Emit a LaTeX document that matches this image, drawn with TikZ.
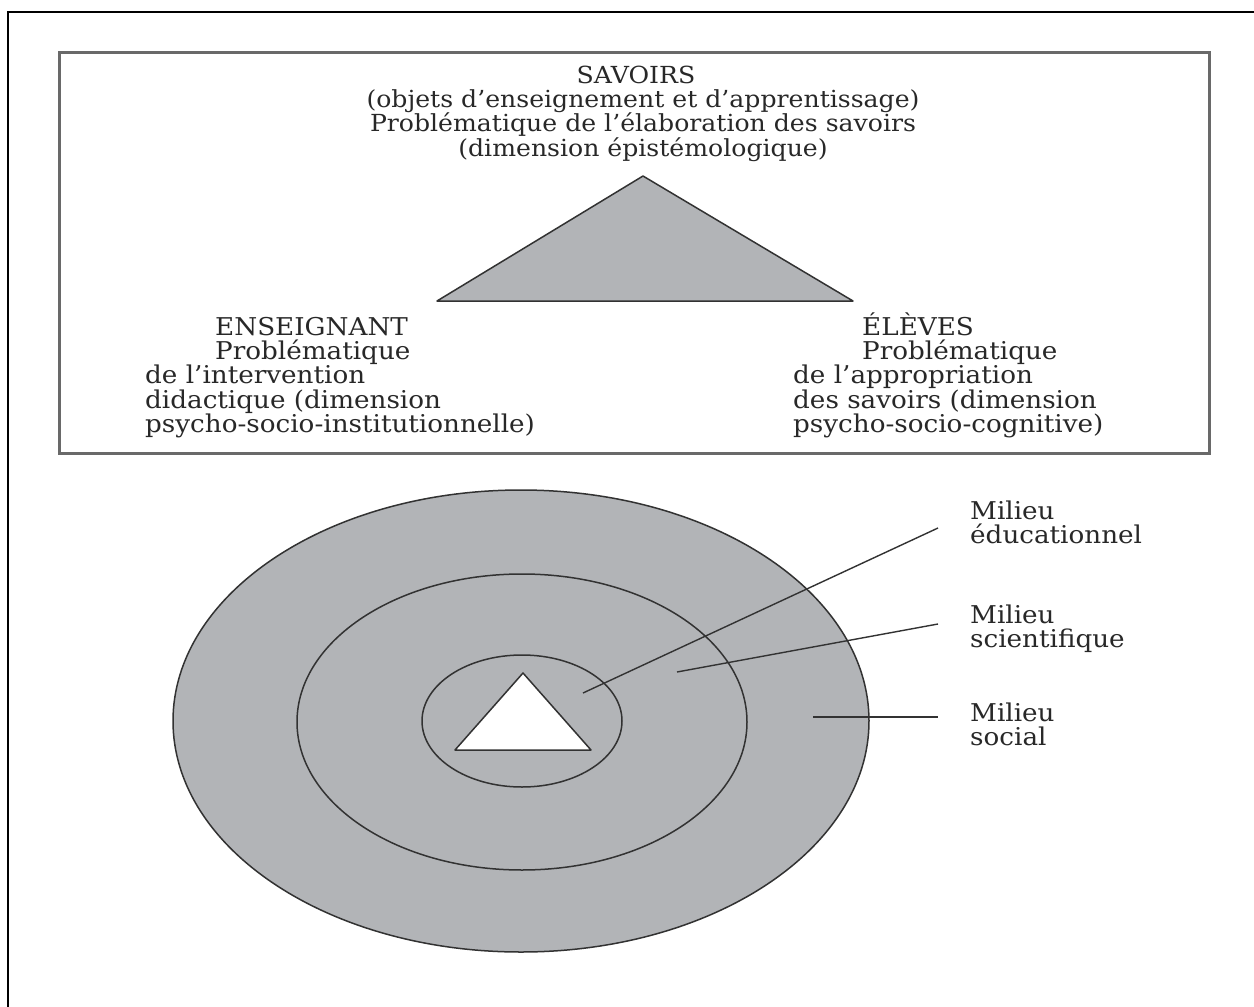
\documentclass[tikz,border=0pt]{standalone}
\usepackage{fontspec}
\setmainfont[FakeStretch=1.07]{DejaVu Serif}
\definecolor{fillgray}{RGB}{178,180,183}
\definecolor{linegray}{RGB}{50,50,50}
\definecolor{boxgray}{RGB}{105,105,105}
\definecolor{textcol}{RGB}{40,40,40}
\begin{document}
\begin{tikzpicture}[x=1pt,y=-1pt,
  txt/.style={font=\fontsize{24.5}{26}\selectfont, text=textcol, inner sep=0pt, anchor=base west},
  ctxt/.style={txt, font=\fontsize{23.5}{25}\selectfont, anchor=base},
  shapefill/.style={draw=linegray, line width=1.5pt, fill=fillgray, line join=round},
  leader/.style={draw=linegray, line width=1.4pt}]
\useasboundingbox (0,0) rectangle (1254,1007);
\fill[white] (0,0) rectangle (1254,1007);
% outer frame (top and left only visible)
\draw[black, line width=2.5pt] (8,1007) -- (8,12) -- (1254,12);
% upper box
\draw[boxgray, line width=3pt] (59,52) rectangle (1209,453);
% big triangle
\coordinate (tA) at (643,176);
\coordinate (tB) at (437,301);
\coordinate (tC) at (853,301);
\draw[shapefill] (tA) -- (tB) -- (tC) -- cycle;
% top text
\node[ctxt] (s1) at (636,83) {SAVOIRS};
\node[ctxt] (s2) at (643,107) {(objets d’enseignement et d’apprentissage)};
\node[ctxt] (s3) at (643,131) {Problématique de l’élaboration des savoirs};
\node[ctxt] (s4) at (643,156) {(dimension épistémologique)};
% left text
\node[txt] (e1) at (215,335) {ENSEIGNANT};
\node[txt] (e2) at (215,359) {Problématique};
\node[txt] (e3) at (145,383) {de l’intervention};
\node[txt] (e4) at (145,408) {didactique (dimension};
\node[txt] (e5) at (145,432) {psycho-socio-institutionnelle)};
% right text
\node[txt] (l1) at (862,335) {ÉLÈVES};
\node[txt] (l2) at (862,359) {Problématique};
\node[txt] (l3) at (793,383) {de l’appropriation};
\node[txt] (l4) at (793,408) {des savoirs (dimension};
\node[txt] (l5) at (793,432) {psycho-socio-cognitive)};
% ellipses
\draw[shapefill] (521,721) ellipse [x radius=348, y radius=231];
\draw[shapefill] (522,722) ellipse [x radius=225, y radius=148];
\draw[shapefill] (522,721) ellipse [x radius=100, y radius=66];
\coordinate (wA) at (523,673);
\coordinate (wB) at (455,750);
\coordinate (wC) at (591,750);
\draw[draw=linegray, line width=1.5pt, fill=white, line join=round] (wA) -- (wB) -- (wC) -- cycle;
% leaders
\coordinate (p1) at (583,693);
\coordinate (q1) at (938,528);
\coordinate (p2) at (677,672);
\coordinate (q2) at (938,624);
\coordinate (p3) at (813,717);
\coordinate (q3) at (938,717);
\draw[leader] (p1) -- (q1);
\draw[leader] (p2) -- (q2);
\draw[leader] (p3) -- (q3);
% labels
\node[txt] (m1) at (970,519) {Milieu};
\node[txt] (m2) at (970,543) {éducationnel};
\node[txt] (m3) at (970,623) {Milieu};
\node[txt] (m4) at (970,647) {scientifique};
\node[txt] (m5) at (970,721) {Milieu};
\node[txt] (m6) at (970,745) {social};
\end{tikzpicture}
\end{document}
